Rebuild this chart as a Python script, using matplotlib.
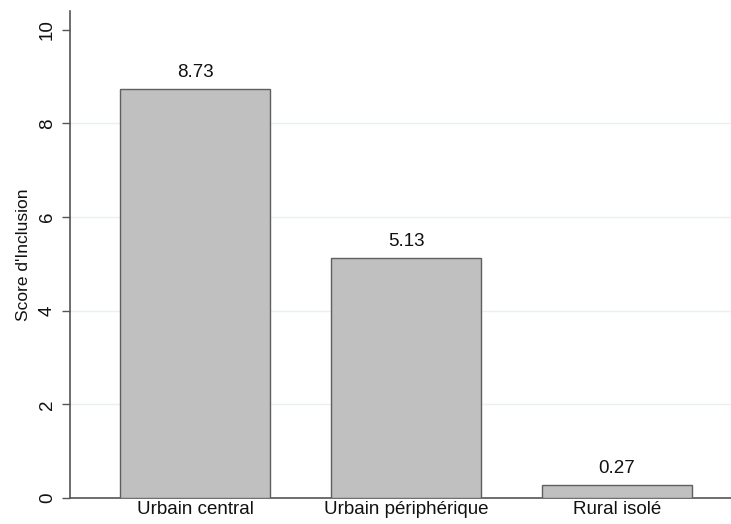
import matplotlib
matplotlib.use('agg')
import matplotlib.pyplot as plt

plt.rcParams['font.family'] = ['Liberation Sans', 'DejaVu Sans']

categories = ['Urbain central', 'Urbain périphérique', 'Rural isolé']
scores = [8.73, 5.13, 0.27]
yticks = [0, 2, 4, 6, 8, 10]

fig = plt.figure(figsize=(7.31, 5.24), dpi=100)
ax = fig.add_axes([70 / 731, 26 / 524, 661 / 731, 487 / 524])

pos = [1, 2, 3]
bars = ax.bar(pos, scores, width=0.71, color='#c0c0c0', edgecolor='#5f5f5f',
              linewidth=1.0, zorder=3)
for b, v in zip(bars, scores):
    ax.text(b.get_x() + b.get_width() / 2, v + 0.17, '%.2f' % v,
            ha='center', va='bottom', fontsize=13.5, color='#111111')

ax.set_xlim(0.408, 3.54)
ax.set_ylim(0, 10.4)
ax.set_xticks(pos)
ax.set_xticklabels(categories, fontsize=13.5, color='#111111')
ax.tick_params(axis='x', length=0, pad=2)
ax.set_yticks(yticks)
ax.set_yticklabels([str(t) for t in yticks], rotation=90, va='center',
                   fontsize=13.5, color='#111111')
ax.tick_params(axis='y', length=6, width=1, color='#555555', pad=4)
for t in [2, 4, 6, 8]:
    ax.axhline(t, color='#eaf1f3', linewidth=1, zorder=1)

ax.set_ylabel("Score d'Inclusion", fontsize=12.5, color='#111111', labelpad=6)

for s in ['top', 'right']:
    ax.spines[s].set_visible(False)
for s in ['left', 'bottom']:
    ax.spines[s].set_color('#555555')
    ax.spines[s].set_linewidth(1.2)

fig.savefig('out.png', dpi=100)
